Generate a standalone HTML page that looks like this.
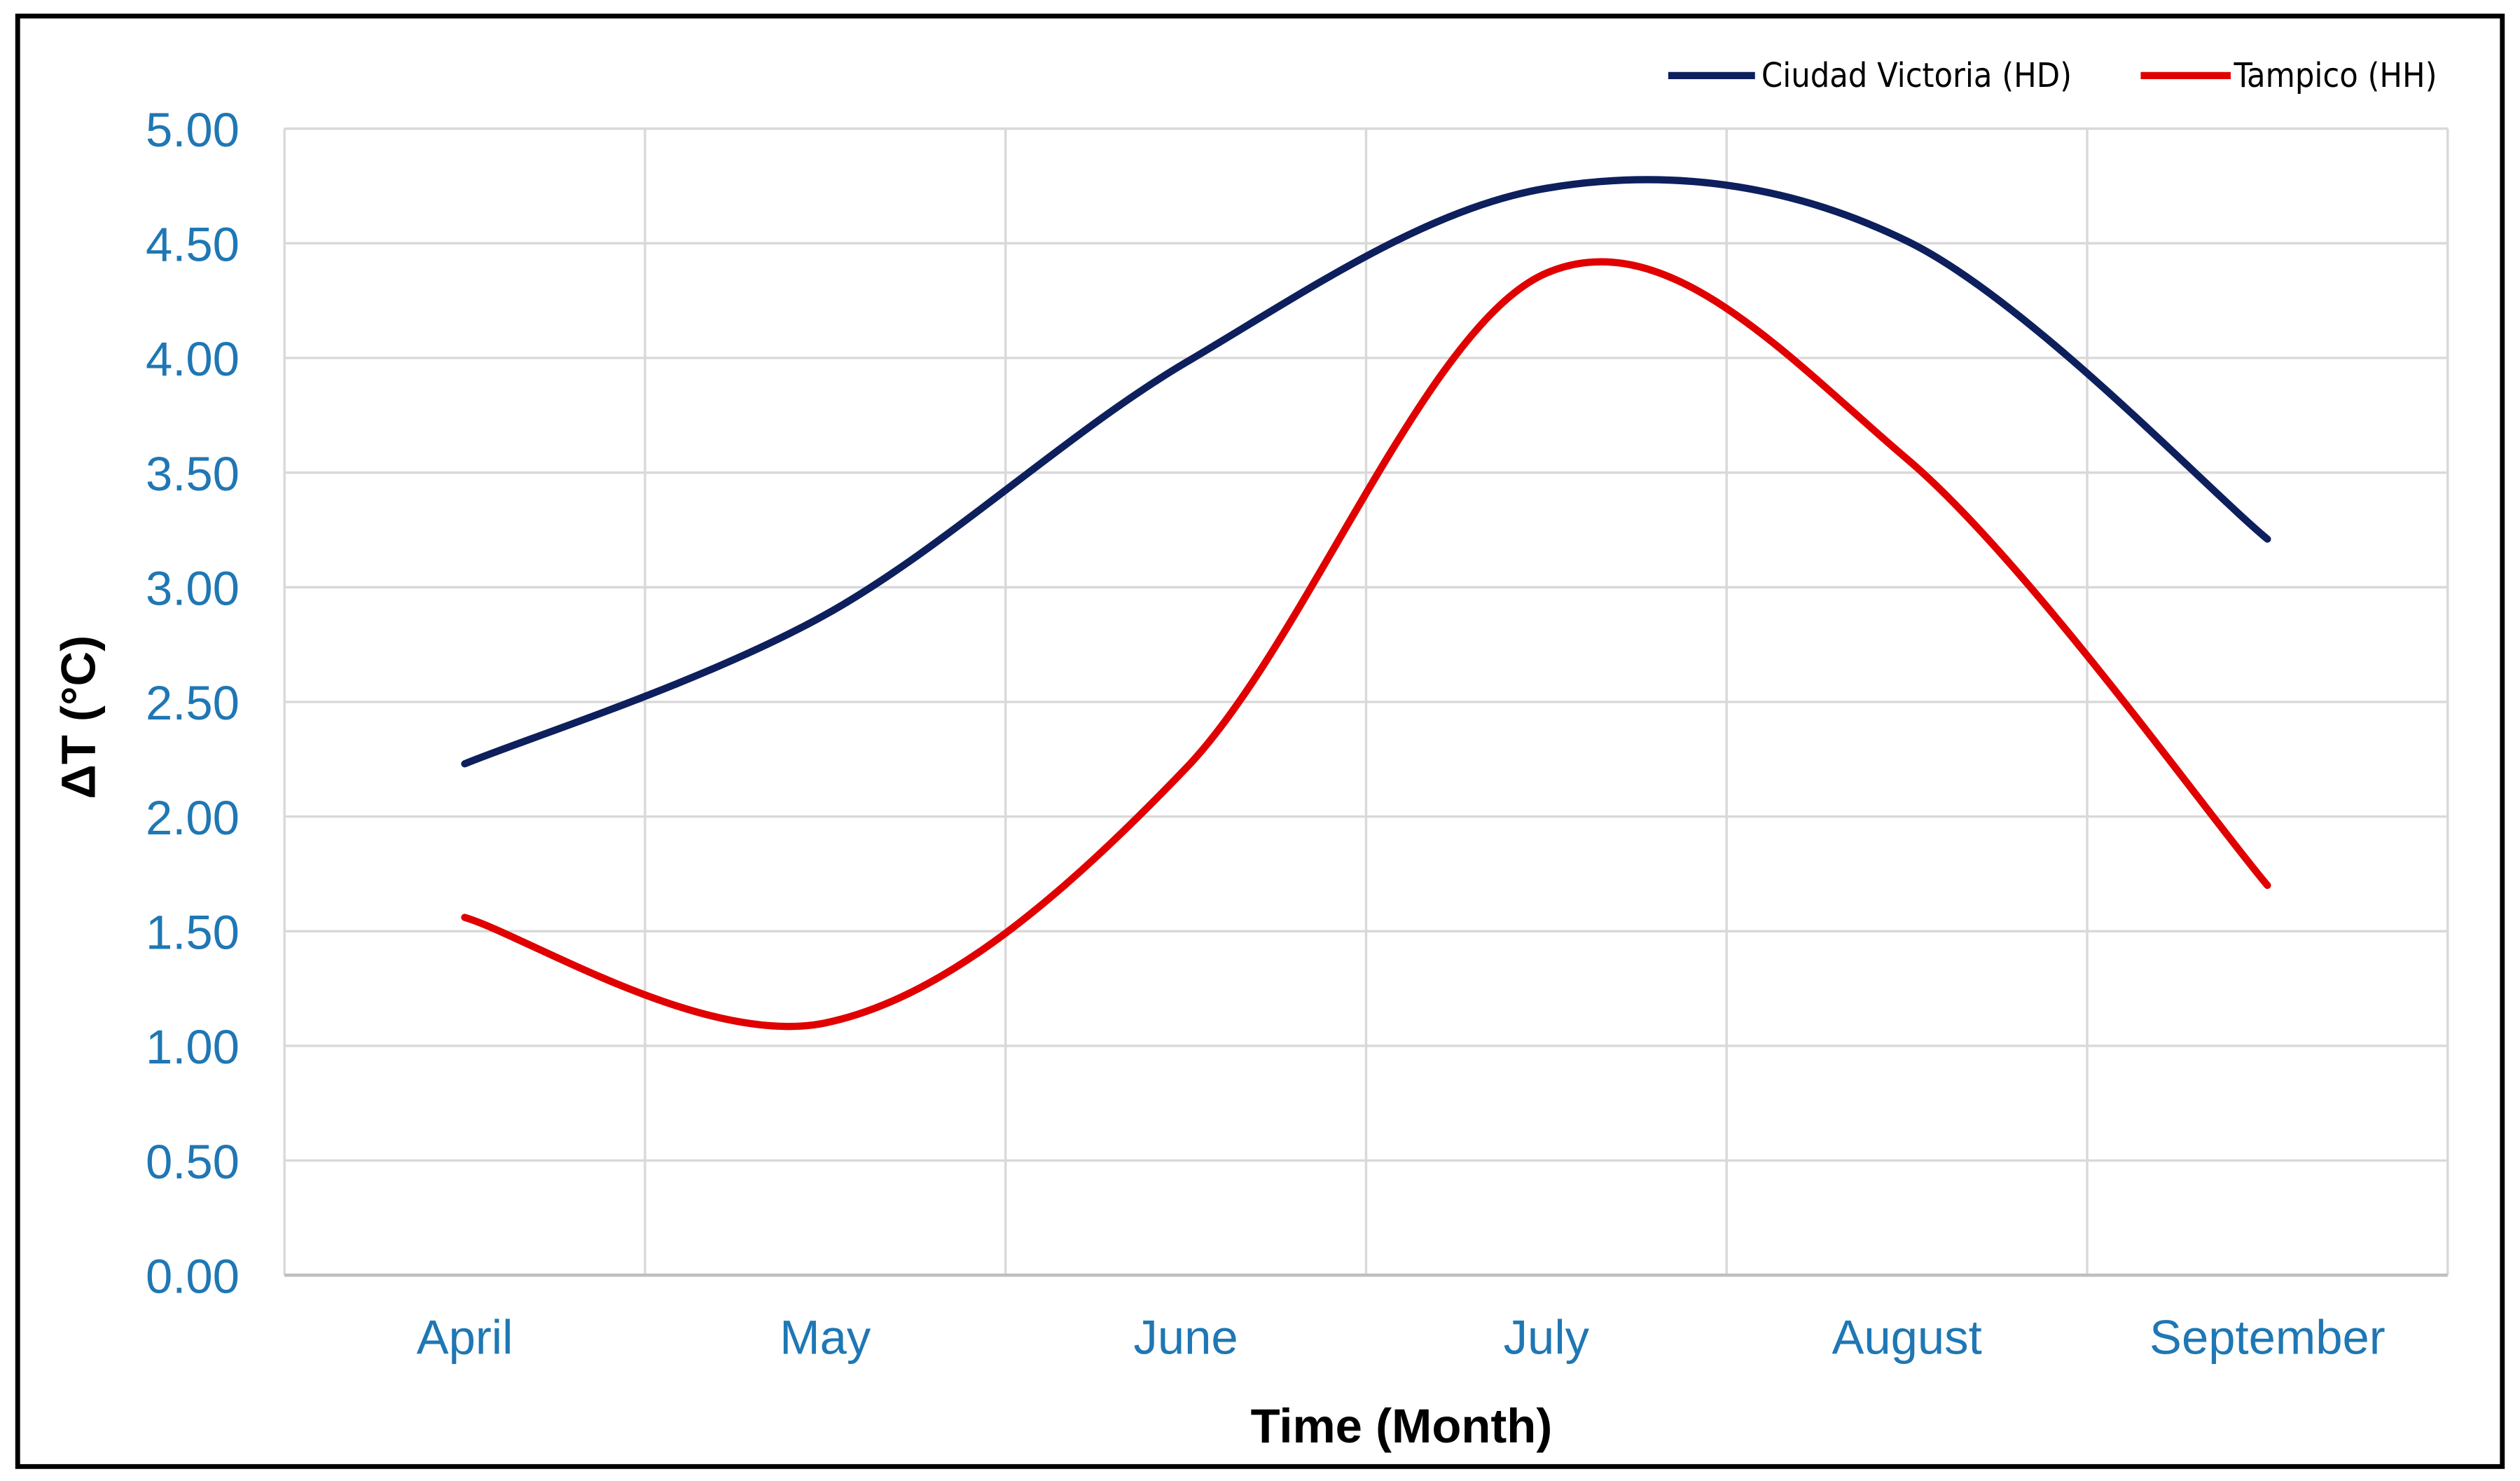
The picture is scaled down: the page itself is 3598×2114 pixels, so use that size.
<!DOCTYPE html>
<html><head><meta charset="utf-8"><style>
html,body{margin:0;padding:0;background:#fff;}
svg{display:block;font-family:"Liberation Sans",Arial,sans-serif;}
</style></head><body>
<svg id="chart" width="3598" height="2114" viewBox="0 0 1568 921" preserveAspectRatio="none" xmlns="http://www.w3.org/2000/svg">
<rect x="11" y="10" width="1546" height="902" fill="#fff" stroke="#000" stroke-width="3"/>
<g id="grid"></g>
<g id="axes"></g>
<g id="series"></g>
<text transform="translate(59,446) rotate(-90)" text-anchor="middle" font-size="30" font-weight="bold" fill="#000">ΔT (°C)</text>
<text x="872" y="897" text-anchor="middle" font-size="30" font-weight="bold" fill="#000">Time (Month)</text>
<g>
<line x1="1038" y1="47" x2="1092" y2="47" stroke="#0d1f5c" stroke-width="4.5"/>
<text x="1096" y="54" font-size="21" fill="#000" font-family="DejaVu Sans Condensed, Liberation Sans, sans-serif">Ciudad Victoria (HD)</text>
<line x1="1332" y1="47" x2="1388" y2="47" stroke="#e00000" stroke-width="4.5"/>
<text x="1390" y="54" font-size="21" fill="#000" font-family="DejaVu Sans Condensed, Liberation Sans, sans-serif">Tampico (HH)</text>
</g>
</svg>
<script>
const categories = ["April","May","June","July","August","September"];
const victoria = [2.23, 2.88, 3.98, 4.74, 4.51, 3.21];
const tampico = [1.56, 1.10, 2.21, 4.37, 3.56, 1.70];
const yTicks = ["0.00","0.50","1.00","1.50","2.00","2.50","3.00","3.50","4.00","4.50","5.00"];

const NS = "http://www.w3.org/2000/svg";
const L = 177, R = 1523, T = 80, B = 793, YMAX = 5;
const band = (R - L) / categories.length;
const xs = i => L + band * (i + 0.5);
const ys = v => B - (v / YMAX) * (B - T);
function mk(tag, attrs, parent){const e=document.createElementNS(NS,tag);for(const k in attrs)e.setAttribute(k,attrs[k]);parent.appendChild(e);return e;}
const grid = document.getElementById('grid'), axes = document.getElementById('axes'), series = document.getElementById('series');

yTicks.forEach(t => {
  const y = ys(parseFloat(t));
  const g = mk('line',{x1:L,x2:R,y1:y,y2:y,stroke:'#d9d9d9','stroke-width':1.5},grid);
  
  
  const tx = mk('text',{x:149,y:y+11,'text-anchor':'end','font-size':30,fill:'#1f77b4'},axes);
  tx.textContent = t;
  
  
});
for (let i = 0; i <= categories.length; i++) {
  const x = L + band * i;
  const g = mk('line',{x1:x,x2:x,y1:T,y2:B,stroke:'#d9d9d9','stroke-width':1.5},grid);
  
  
}
const ax = mk('line',{x1:L,x2:R,y1:B,y2:B,stroke:'#bfbfbf','stroke-width':2},axes);


categories.forEach((c,i) => {
  const tx = mk('text',{x:xs(i),y:842,'text-anchor':'middle','font-size':30,fill:'#1f77b4'},axes);
  tx.textContent = c;
  
  
});
function smooth(vals){
  const p = vals.map((v,i)=>[xs(i),ys(v)]);
  let d = `M${p[0][0]},${p[0][1]}`;
  for (let i=0;i<p.length-1;i++){
    const p0=p[Math.max(0,i-1)],p1=p[i],p2=p[i+1],p3=p[Math.min(p.length-1,i+2)];
    const c1=[p1[0]+(p2[0]-p0[0])/6,p1[1]+(p2[1]-p0[1])/6];
    const c2=[p2[0]-(p3[0]-p1[0])/6,p2[1]-(p3[1]-p1[1])/6];
    d+=` C${c1[0]},${c1[1]} ${c2[0]},${c2[1]} ${p2[0]},${p2[1]}`;
  }
  return d;
}
const l1 = mk('path',{d:smooth(victoria),fill:'none',stroke:'#0d1f5c','stroke-width':4.5,'stroke-linecap':'round'},series);


const l2 = mk('path',{d:smooth(tampico),fill:'none',stroke:'#e00000','stroke-width':4.5,'stroke-linecap':'round'},series);


</script>
</body></html>
